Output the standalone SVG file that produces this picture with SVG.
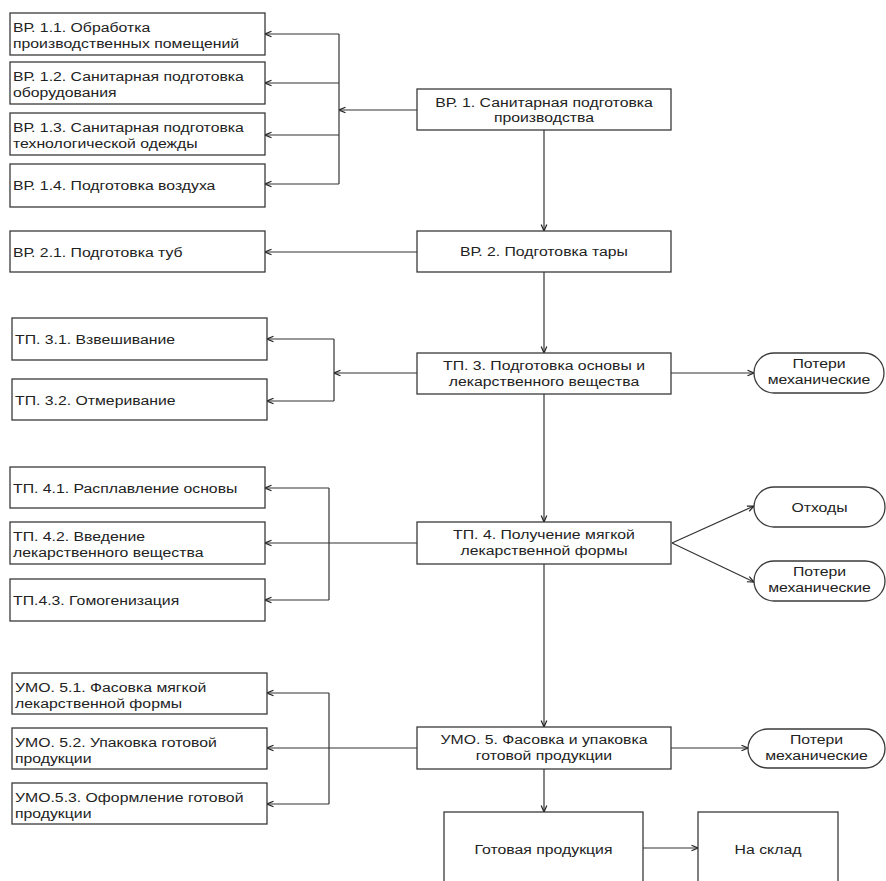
<svg xmlns="http://www.w3.org/2000/svg" width="886" height="881" viewBox="0 0 886 881">
<style>
.b{fill:#fff;stroke:#3a3a3a;stroke-width:1.3}
.p{fill:#fff;stroke:#3a3a3a;stroke-width:1.3}
.t{font-family:"Liberation Sans",Arial,sans-serif;font-size:13.5px;fill:#222}
.c{text-anchor:middle}
.l{fill:none;stroke:#333;stroke-width:1.2}
.a{marker-end:url(#ah)}
</style>
<defs>
<marker id="ah" viewBox="0 0 8 8" refX="7.5" refY="4" markerWidth="8" markerHeight="8" markerUnits="userSpaceOnUse" orient="auto">
<path d="M1,1.2 L7.5,4 L1,6.8" fill="none" stroke="#222" stroke-width="1.2"/>
</marker>
</defs>
<rect width="886" height="881" fill="#fff"/>
<g id="connectors">
<path class="l a" d="M417,110 H339"/>
<path class="l" d="M339,34 V184"/>
<path class="l a" d="M339,34 H265"/>
<path class="l a" d="M339,83 H265"/>
<path class="l a" d="M339,135 H265"/>
<path class="l a" d="M339,184 H265"/>
<path class="l a" d="M544,130 V231"/>
<path class="l a" d="M417,252 H265"/>
<path class="l a" d="M544,272 V353"/>
<path class="l a" d="M417,373 H334"/>
<path class="l" d="M334,339 V401"/>
<path class="l a" d="M334,339 H267"/>
<path class="l a" d="M334,401 H267"/>
<path class="l a" d="M671,373 H754"/>
<path class="l a" d="M544,394 V522"/>
<path class="l a" d="M417,543 H265"/>
<path class="l" d="M329,488 V600"/>
<path class="l a" d="M329,488 H265"/>
<path class="l a" d="M329,600 H265"/>
<path class="l a" d="M672,543 L754,506"/>
<path class="l a" d="M672,543 L754,582"/>
<path class="l a" d="M544,564 V727"/>
<path class="l a" d="M417,748 H267"/>
<path class="l" d="M329,693 V804"/>
<path class="l a" d="M329,693 H267"/>
<path class="l a" d="M329,804 H267"/>
<path class="l a" d="M671,748 H748"/>
<path class="l a" d="M544,769 V812"/>
<path class="l a" d="M643,848 H698"/>
</g>
<g id="n11"><rect class="b" x="10" y="13" width="255" height="42"/><text class="t" transform="translate(13,32) scale(1.17,1)">ВР. 1.1. Обработка</text><text class="t" transform="translate(13,47.5) scale(1.17,1)">производственных помещений</text></g>
<g id="n12"><rect class="b" x="10" y="62" width="255" height="42"/><text class="t" transform="translate(13,81) scale(1.17,1)">ВР. 1.2. Санитарная подготовка</text><text class="t" transform="translate(13,96.5) scale(1.17,1)">оборудования</text></g>
<g id="n13"><rect class="b" x="10" y="113" width="255" height="42"/><text class="t" transform="translate(13,132) scale(1.17,1)">ВР. 1.3. Санитарная подготовка</text><text class="t" transform="translate(13,147.5) scale(1.17,1)">технологической одежды</text></g>
<g id="n14"><rect class="b" x="10" y="164" width="255" height="43"/><text class="t" transform="translate(13,190) scale(1.17,1)">ВР. 1.4. Подготовка воздуха</text></g>
<g id="n21"><rect class="b" x="10" y="231" width="255" height="41"/><text class="t" transform="translate(13,257) scale(1.17,1)">ВР. 2.1. Подготовка туб</text></g>
<g id="n31"><rect class="b" x="12" y="318" width="255" height="42"/><text class="t" transform="translate(15,344) scale(1.17,1)">ТП. 3.1. Взвешивание</text></g>
<g id="n32"><rect class="b" x="12" y="379" width="255" height="41"/><text class="t" transform="translate(15,405) scale(1.17,1)">ТП. 3.2. Отмеривание</text></g>
<g id="n41"><rect class="b" x="10" y="467" width="255" height="41"/><text class="t" transform="translate(13,493) scale(1.17,1)">ТП. 4.1. Расплавление основы</text></g>
<g id="n42"><rect class="b" x="10" y="522" width="255" height="42"/><text class="t" transform="translate(13,541) scale(1.17,1)">ТП. 4.2. Введение</text><text class="t" transform="translate(13,556.5) scale(1.17,1)">лекарственного вещества</text></g>
<g id="n43"><rect class="b" x="10" y="579" width="255" height="42"/><text class="t" transform="translate(13,605) scale(1.17,1)">ТП.4.3. Гомогенизация</text></g>
<g id="n51"><rect class="b" x="12" y="673" width="255" height="41"/><text class="t" transform="translate(15,692) scale(1.17,1)">УМО. 5.1. Фасовка мягкой</text><text class="t" transform="translate(15,707.5) scale(1.17,1)">лекарственной формы</text></g>
<g id="n52"><rect class="b" x="12" y="728" width="255" height="41"/><text class="t" transform="translate(15,747) scale(1.17,1)">УМО. 5.2. Упаковка готовой</text><text class="t" transform="translate(15,762.5) scale(1.17,1)">продукции</text></g>
<g id="n53"><rect class="b" x="12" y="783" width="255" height="41"/><text class="t" transform="translate(15,802) scale(1.17,1)">УМО.5.3. Оформление готовой</text><text class="t" transform="translate(15,817.5) scale(1.17,1)">продукции</text></g>
<g id="n1"><rect class="b" x="417" y="89" width="254" height="41"/><text class="t c" transform="translate(544,106.5) scale(1.17,1)">ВР. 1. Санитарная подготовка</text><text class="t c" transform="translate(544,122) scale(1.17,1)">производства</text></g>
<g id="n2"><rect class="b" x="417" y="231" width="254" height="41"/><text class="t c" transform="translate(544,256) scale(1.17,1)">ВР. 2. Подготовка тары</text></g>
<g id="n3"><rect class="b" x="417" y="353" width="254" height="41"/><text class="t c" transform="translate(544,370) scale(1.17,1)">ТП. 3. Подготовка основы и</text><text class="t c" transform="translate(544,385.5) scale(1.17,1)">лекарственного вещества</text></g>
<g id="n4"><rect class="b" x="417" y="522" width="254" height="42"/><text class="t c" transform="translate(544,539) scale(1.17,1)">ТП. 4. Получение мягкой</text><text class="t c" transform="translate(544,554.5) scale(1.17,1)">лекарственной формы</text></g>
<g id="n5"><rect class="b" x="417" y="727" width="254" height="42"/><text class="t c" transform="translate(544,744) scale(1.17,1)">УМО. 5. Фасовка и упаковка</text><text class="t c" transform="translate(544,759.5) scale(1.17,1)">готовой продукции</text></g>
<g id="ready"><rect class="b" x="444" y="812" width="199" height="80"/><text class="t c" transform="translate(543.5,854) scale(1.17,1)">Готовая продукция</text></g>
<g id="store"><rect class="b" x="698" y="812" width="140" height="80"/><text class="t c" transform="translate(768,854) scale(1.17,1)">На склад</text></g>
<g id="loss3"><rect class="p" x="754" y="353" width="130" height="40" rx="20" ry="20"/><text class="t c" transform="translate(819,368) scale(1.17,1)">Потери</text><text class="t c" transform="translate(819,384) scale(1.17,1)">механические</text></g>
<g id="waste4"><rect class="p" x="754" y="487" width="131" height="40" rx="20" ry="20"/><text class="t c" transform="translate(819.5,512) scale(1.17,1)">Отходы</text></g>
<g id="loss4"><rect class="p" x="754" y="561" width="131" height="40" rx="20" ry="20"/><text class="t c" transform="translate(819.5,576) scale(1.17,1)">Потери</text><text class="t c" transform="translate(819.5,592) scale(1.17,1)">механические</text></g>
<g id="loss5"><rect class="p" x="748" y="729" width="137" height="39" rx="19.5" ry="19.5"/><text class="t c" transform="translate(816.5,744) scale(1.17,1)">Потери</text><text class="t c" transform="translate(816.5,760) scale(1.17,1)">механические</text></g>
</svg>
